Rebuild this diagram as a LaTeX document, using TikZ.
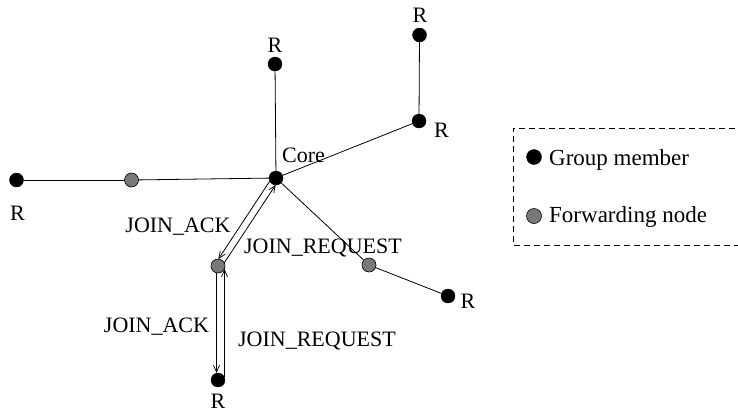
\documentclass[tikz,border=0pt]{standalone}
\usepackage{fontspec}
\setmainfont{Liberation Serif}
\usetikzlibrary{arrows.meta,calc}
\begin{document}
\begin{tikzpicture}[x=1pt,y=-1pt,
  member/.style={circle,draw=black,fill=black,inner sep=0pt,minimum size=14pt},
  fwd/.style={circle,draw=black,fill=gray!95!black,line width=0.6pt,inner sep=0pt,minimum size=14pt},
  lbl/.style={inner sep=0pt,font=\fontsize{22}{26}\selectfont},
  leglbl/.style={inner sep=0pt,font=\fontsize{23}{27}\selectfont},
  edge/.style={line width=0.8pt},
  msg/.style={line width=0.8pt,-{Straight Barb[length=7pt,width=6pt,line width=0.7pt]}},
  legendbox/.style={draw,dashed,dash pattern=on 6pt off 4pt,line width=0.8pt}]
\useasboundingbox (0,0) rectangle (738,413);
% nodes
\node[member] (core) at (276,178) {};
\node[member] (top) at (275,64) {};
\node[member] (tr) at (419.5,35) {};
\node[member] (rr) at (419,121) {};
\node[member] (left) at (16.5,180) {};
\node[fwd] (lg) at (131.5,180) {};
\node[fwd] (gm) at (218,266) {};
\node[member] (bot) at (218,380) {};
\node[fwd] (gr) at (369,265) {};
\node[member] (rlow) at (448,296) {};
% edges
\draw[edge] (core) -- (top);
\draw[edge] (core) -- (rr);
\draw[edge] (rr) -- (tr);
\draw[edge] (core) -- (lg);
\draw[edge] (lg) -- (left);
\draw[edge] (core) -- (gr);
\draw[edge] (gr) -- (rlow);
% message arrows core <-> gm
\coordinate (c1) at ($(core)!3.5pt!-90:(gm)$);
\coordinate (g1) at ($(gm)!3.5pt!90:(core)$);
\coordinate (c2) at ($(core)!3.5pt!90:(gm)$);
\coordinate (g2) at ($(gm)!3.5pt!-90:(core)$);
\draw[msg,shorten <=6pt,shorten >=6pt] (c1) -- (g1);
\draw[msg,shorten <=6pt,shorten >=6pt] (g2) -- (c2);
% message arrows gm <-> bot
\coordinate (g3) at ($(gm)!1.5pt!-90:(bot)$);
\coordinate (b3) at ($(bot)!1.5pt!90:(gm)$);
\coordinate (g4) at ($(gm)!6.5pt!90:(bot)$);
\coordinate (b4) at ($(bot)!6.5pt!-90:(gm)$);
\draw[msg,shorten <=7pt,shorten >=7pt] (g3) -- (b3);
\draw[msg,shorten <=3pt,shorten >=3pt] (b4) -- (g4);
% labels
\node[lbl,anchor=base] (ltop) at (275,52) {R};
\node[lbl,anchor=base] (ltr) at (420,22) {R};
\node[lbl,anchor=base] (lrr) at (441.5,137) {R};
\node[lbl,anchor=base] (lleft) at (17.5,220.5) {R};
\node[lbl,anchor=base] (lbot) at (218,408) {R};
\node[lbl,anchor=base] (lrlow) at (468,308) {R};
\node[lbl,anchor=base] (lcore) at (303.5,162) {Core};
\node[lbl,anchor=base] (ack1) at (178,232) {JOIN\_ACK};
\node[lbl,anchor=base] (req1) at (323,253) {JOIN\_REQUEST};
\node[lbl,anchor=base] (ack2) at (156.5,332) {JOIN\_ACK};
\node[lbl,anchor=base] (req2) at (317,346) {JOIN\_REQUEST};
% legend
\draw[legendbox] (745,128) -- (513,128) -- (513,245) -- (745,245);
\node[member,minimum size=15pt] (lm) at (534,157) {};
\node[fwd,minimum size=15pt] (lf) at (534,216) {};
\node[leglbl,anchor=base west] (tm) at (549,165) {Group member};
\node[leglbl,anchor=base west] (tf) at (549,222) {Forwarding node};
\end{tikzpicture}
\end{document}
